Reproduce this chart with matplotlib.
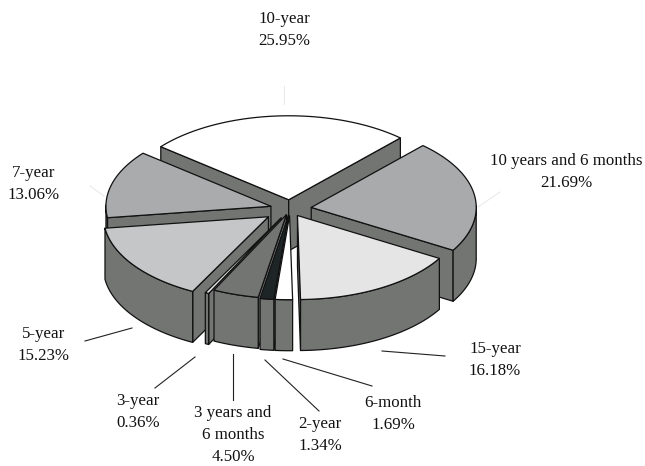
import matplotlib
matplotlib.use('Agg')

import matplotlib.pyplot as plt
import numpy as np

# clockwise from the right edge of the 10-year slice
names = ['10 years and 6 months', '15-year', '6-month', '2-year',
         '3 years and\n6 months', '3-year', '5-year', '7-year', '10-year']
shares = [21.69, 16.18, 1.69, 1.34, 4.50, 0.36, 15.23, 13.06, 25.95]
pct_labels = ['21.69%', '16.18%', '1.69%', '1.34%', '4.50%', '0.36%', '15.23%', '13.06%', '25.95%']
top_colors = ['#a8aaac', '#e4e5e4', '#ffffff', '#1e2526', '#737573', '#e8e8e8', '#c4c6c8', '#a9abad', '#ffffff']
explode = [0.13, 0.09, 0.08, 0.08, 0.07, 0.12, 0.16, 0.12, 0.11]

SIDE = '#737573'
CX, CY = 290, 209
RX, RY = 165, 84
DEPTH = 51
START = 47.4


def project(x, y, drop=0):
    # y > 0 is towards the back of the plate
    return CX + RX * x, CY - RY * y + drop


def face(ax, pts, color, z):
    ax.fill([p[0] for p in pts], [p[1] for p in pts], facecolor=color,
            edgecolor='#111111', linewidth=0.9, joinstyle='round', zorder=z)


fig = plt.figure(figsize=(6.45, 4.66), dpi=100)
ax = fig.add_axes([0, 0, 1, 1])
ax.set_xlim(0, 645)
ax.set_ylim(466, 0)
ax.axis('off')

slices = []
angle = START
for name, share, col, e in zip(names, shares, top_colors, explode):
    span = share * 3.6
    slices.append((angle, angle - span, col, e))
    angle -= span

# back slices first
order = sorted(range(len(slices)), key=lambda i: -np.sin(np.radians((slices[i][0] + slices[i][1]) / 2)))
for rank, i in enumerate(order):
    a0, a1, col, e = slices[i]
    z = 10 + rank
    mid = np.radians((a0 + a1) / 2)
    ox, oy = e * np.cos(mid), e * np.sin(mid)
    ts = np.radians(np.linspace(a0, a1, 60))
    rim = [project(ox + np.cos(t), oy + np.sin(t)) for t in ts]
    apex = project(ox, oy)

    # radial walls that face the viewer
    for tip, sign in ((rim[0], -1), (rim[-1], 1)):
        cross = (tip[0] - apex[0]) * sign
        if cross > 0:
            face(ax, [apex, tip, (tip[0], tip[1] + DEPTH), (apex[0], apex[1] + DEPTH)], SIDE, z)

    # outer wall, only the part with its normal pointing down
    front = [p for p, t in zip(rim, ts) if np.sin(t) < 0.02]
    if len(front) > 1:
        low = [(p[0], p[1] + DEPTH) for p in front[::-1]]
        face(ax, front + low, SIDE, z)

    face(ax, [apex] + rim, col, z)

# leader lines
dark = [((85, 341), (132, 328)), ((155, 388), (195, 357)), ((233, 400), (233, 354)),
        ((319, 411), (265, 360)), ((372, 386), (283, 359)), ((445, 356), (382, 351))]
faint = [((284, 104), (284, 86)), ((478, 207), (500, 192)), ((104, 196), (90, 186))]
for p, q in dark:
    ax.plot([p[0], q[0]], [p[1], q[1]], color='#222222', lw=0.8, zorder=30)
for p, q in faint:
    ax.plot([p[0], q[0]], [p[1], q[1]], color='#e8e8e8', lw=0.7, zorder=1)

# label positions, same order as names
label_xy = [(566, 172), (495, 360), (393, 414), (320, 435), (233, 435), (138, 412), (44, 345), (34, 184), (284, 30)]
for name, pct, (x, y) in zip(names, pct_labels, label_xy):
    ax.text(x, y, name + '\n' + pct, ha='center', va='center', family='Liberation Serif',
            fontsize=12.2, color='#111111', linespacing=1.5, zorder=40)

fig.savefig('out.png', dpi=100)
